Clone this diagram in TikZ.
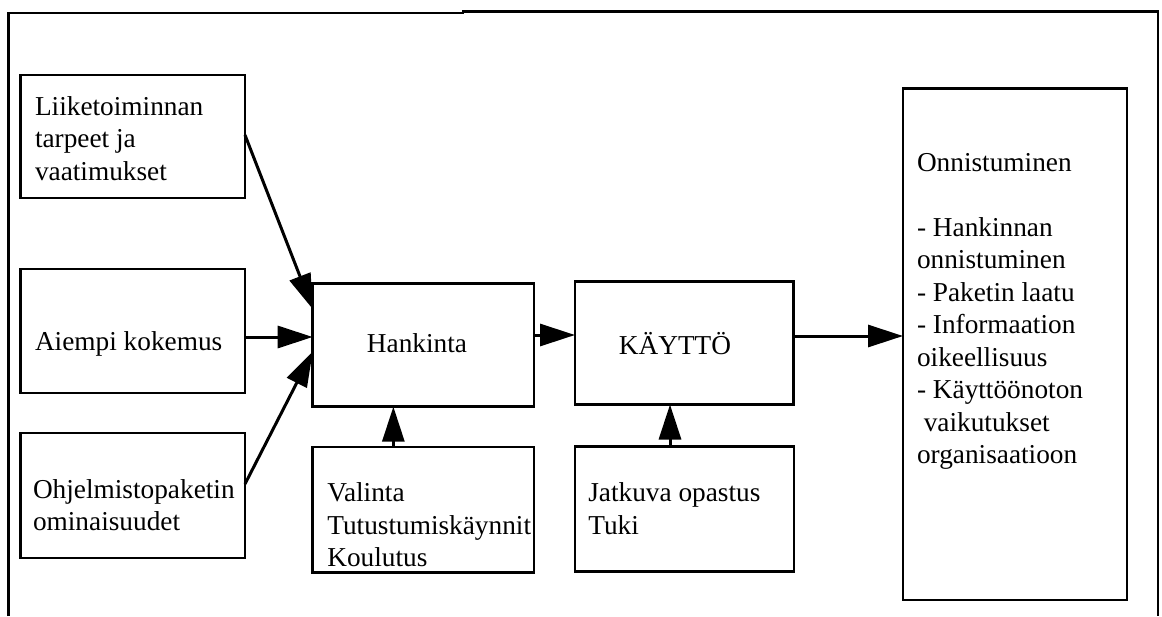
\documentclass[tikz,border=0pt]{standalone}
\usepackage{fontspec}
\setmainfont{Liberation Serif}
\usetikzlibrary{arrows.meta}
\begin{document}
\begin{tikzpicture}[x=1pt,y=-1pt,
  box/.style={draw,line width=2.8pt,inner sep=0pt,outer sep=0pt,rectangle},
  lbl/.style={inner sep=0pt,outer sep=0pt,font=\fontsize{27.3}{32.5}\selectfont},
  conn/.style={line width=3pt,-{Triangle[length=35pt,width=22pt]}},
  frame/.style={line width=2.2pt}]
\useasboundingbox (0,0) rectangle (1162,616);
% outer frame (bottom edge lies outside the picture)
\draw[frame] (8.5,616) -- (8.5,13) -- (463,13) -- (463,11.5) -- (1158,11.5) -- (1158,616);

% boxes
\node[box,minimum width=224.5pt,minimum height=123pt] (b1) at (132.75,136.5) {};
\node[box,minimum width=224.5pt,minimum height=124pt] (b2) at (132.75,331) {};
\node[box,minimum width=224.5pt,minimum height=125pt] (b3) at (132.75,495.5) {};
\node[box,minimum width=221.3pt,minimum height=123.4pt] (hank) at (423.35,345) {};
\node[box,minimum width=218.3pt,minimum height=122.8pt] (kayt) at (684.15,343.1) {};
\node[box,minimum width=221.3pt,minimum height=125.5pt] (val) at (423.35,509.75) {};
\node[box,minimum width=219pt,minimum height=125pt] (jatk) at (684.5,509.2) {};
\node[box,minimum width=224pt,minimum height=511.5pt] (onn) at (1015,344.25) {};

% texts
\node[lbl,anchor=base west] (t1) at (35,115) {\begin{tabular}[t]{@{}l@{}}Liiketoiminnan\\tarpeet ja\\vaatimukset\end{tabular}};
\node[lbl,anchor=base west] (t2) at (35,350) {Aiempi kokemus};
\node[lbl,anchor=base west] (t3) at (33,498) {\begin{tabular}[t]{@{}l@{}}Ohjelmistopaketin\\ominaisuudet\end{tabular}};
\node[lbl,anchor=base] (th) at (417,352) {Hankinta};
\node[lbl,anchor=base] (tk) at (675,354) {KÄYTTÖ};
\node[lbl,anchor=base west] (tv) at (327.3,501.7) {\begin{tabular}[t]{@{}l@{}}Valinta\\Tutustumiskäynnit\\Koulutus\end{tabular}};
\node[lbl,anchor=base west] (tj) at (588.3,501.7) {\begin{tabular}[t]{@{}l@{}}Jatkuva opastus\\Tuki\end{tabular}};
\node[lbl,anchor=base west] (to) at (917,171) {\begin{tabular}[t]{@{}l@{}}Onnistuminen\\[32.5pt]- Hankinnan\\onnistuminen\\- Paketin laatu\\- Informaation\\oikeellisuus\\- Käyttöönoton\\\ vaikutukset\\organisaatioon\end{tabular}};

% connectors
\draw[conn] ([yshift=1.5pt]b1.east) -- ([yshift=36pt]hank.west);
\draw[conn] ([yshift=-6pt]b2.east) -- ([yshift=8pt]hank.west);
\draw[conn] ([yshift=11.5pt]b3.east) -- ([yshift=-6.7pt]hank.west);
\draw[conn] ([yshift=10pt]hank.east) -- ([yshift=8.1pt]kayt.west);
\draw[conn] ([yshift=7.1pt]kayt.east) -- ([yshift=8.25pt]onn.west);
\draw[conn] ([xshift=-30pt]val.north) -- ([xshift=-30pt]hank.south);
\draw[conn] ([xshift=-14.5pt]jatk.north) -- ([xshift=-14.15pt]kayt.south);
\end{tikzpicture}
\end{document}
